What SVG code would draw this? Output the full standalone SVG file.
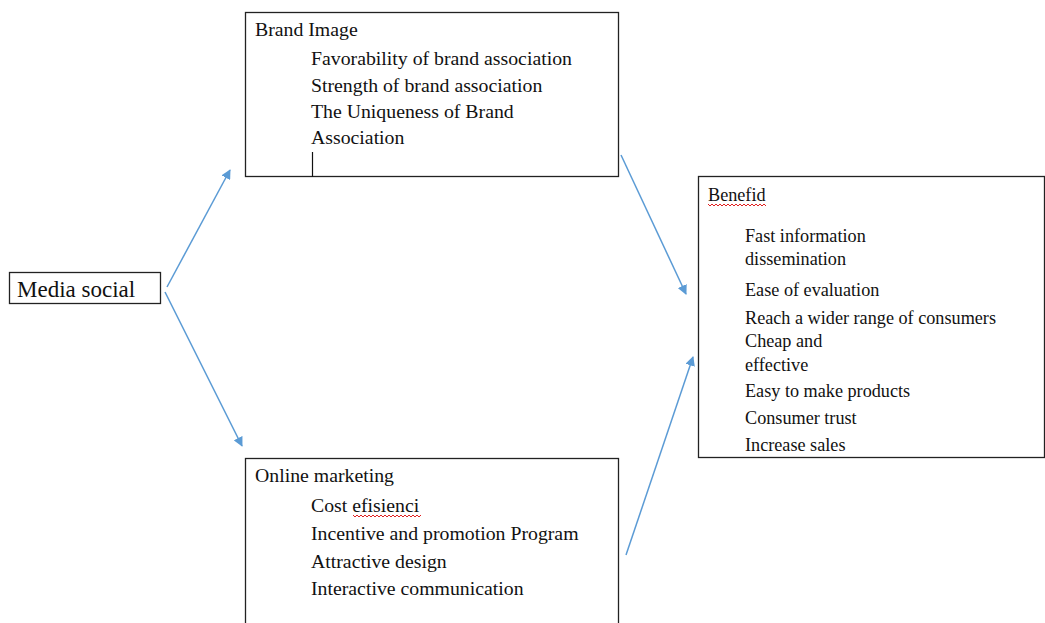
<svg xmlns="http://www.w3.org/2000/svg" width="1045" height="623" viewBox="0 0 1045 623">
<style>
.box{fill:#fff;stroke:#222;stroke-width:1.3}
.t{font-family:"Liberation Serif","Times New Roman",serif;font-size:19.8px;fill:#111}
.big{font-size:23px}
.sm{font-size:18.2px}
.conn{stroke:#5B9BD5;stroke-width:1.5;fill:none;marker-end:url(#ah)}
.wavy{stroke:#e02020;stroke-width:1;fill:none}
</style>
<defs>
<marker id="ah" viewBox="0 0 10 10" refX="9" refY="5" markerWidth="6.5" markerHeight="6.5" orient="auto" markerUnits="strokeWidth">
<path d="M0,0 L10,5 L0,10 z" fill="#5B9BD5"/>
</marker>
</defs>
<rect width="1045" height="623" fill="#fff"/>
<g id="media-social">
<rect class="box" x="9.5" y="272.5" width="151" height="31"/>
<text class="t big" x="17" y="297">Media social</text>
</g>
<g id="brand-image">
<rect class="box" x="245.5" y="12.5" width="373" height="164"/>
<text class="t" x="255" y="36">Brand Image</text>
<text class="t" x="311" y="65">Favorability of brand association</text>
<text class="t" x="311" y="92">Strength of brand association</text>
<text class="t" x="311" y="118">The Uniqueness of Brand</text>
<text class="t" x="311" y="144">Association</text>
<line x1="312.5" y1="152" x2="312.5" y2="177" stroke="#111" stroke-width="1.2"/>
</g>
<g id="online-marketing">
<rect class="box" x="245.5" y="458.5" width="373" height="170"/>
<text class="t" x="255" y="482">Online marketing</text>
<text class="t" x="311" y="512">Cost efisienci</text>
<path class="wavy" d="M353,515 l2,2 l2,-2 l2,2 l2,-2 l2,2 l2,-2 l2,2 l2,-2 l2,2 l2,-2 l2,2 l2,-2 l2,2 l2,-2 l2,2 l2,-2 l2,2 l2,-2 l2,2 l2,-2 l2,2 l2,-2 l2,2 l2,-2 l2,2 l2,-2 l2,2 l2,-2 l2,2 l2,-2 l2,2 l2,-2 l2,2 l2,-2"/>
<text class="t" x="311" y="540">Incentive and promotion Program</text>
<text class="t" x="311" y="568">Attractive design</text>
<text class="t" x="311" y="595">Interactive communication</text>
</g>
<g id="benefid">
<rect class="box" x="698.5" y="176.5" width="346" height="281"/>
<text class="t sm" x="708" y="201">Benefid</text>
<path class="wavy" d="M708,204 l2,2 l2,-2 l2,2 l2,-2 l2,2 l2,-2 l2,2 l2,-2 l2,2 l2,-2 l2,2 l2,-2 l2,2 l2,-2 l2,2 l2,-2 l2,2 l2,-2 l2,2 l2,-2 l2,2 l2,-2 l2,2 l2,-2 l2,2 l2,-2 l2,2 l2,-2 l2,2"/>
<text class="t sm" x="745" y="242">Fast information</text>
<text class="t sm" x="745" y="265">dissemination</text>
<text class="t sm" x="745" y="296">Ease of evaluation</text>
<text class="t sm" x="745" y="324">Reach a wider range of consumers</text>
<text class="t sm" x="745" y="347">Cheap and</text>
<text class="t sm" x="745" y="371">effective</text>
<text class="t sm" x="745" y="397">Easy to make products</text>
<text class="t sm" x="745" y="424">Consumer trust</text>
<text class="t sm" x="745" y="451">Increase sales</text>
</g>
<g id="connectors">
<line class="conn" x1="167" y1="287" x2="230" y2="170"/>
<line class="conn" x1="165" y1="292" x2="242" y2="446"/>
<line class="conn" x1="621" y1="155" x2="686" y2="294"/>
<line class="conn" x1="626" y1="555" x2="693" y2="357"/>
</g>
</svg>
